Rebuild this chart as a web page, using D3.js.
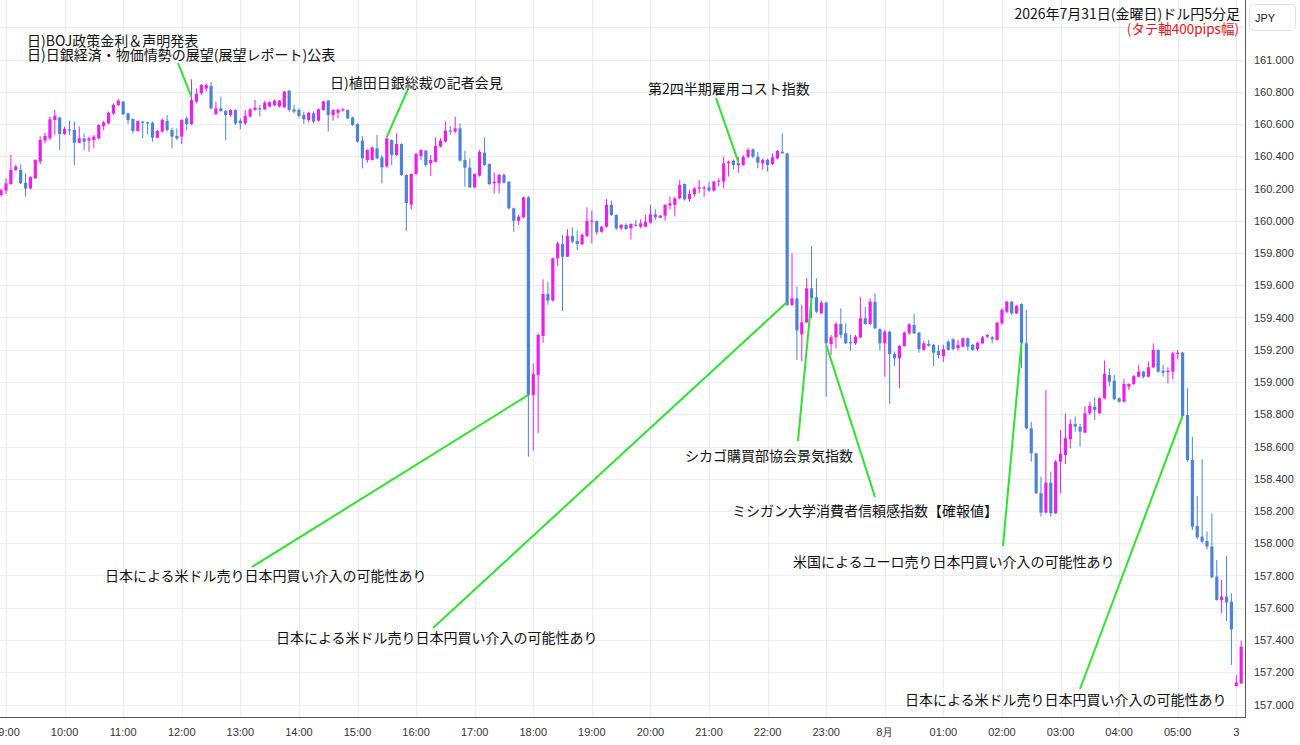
<!DOCTYPE html>
<html><head><meta charset="utf-8">
<script src="https://cdn.jsdelivr.net/npm/d3@7/dist/d3.min.js"></script>
<style>body{margin:0;background:#fff;overflow:hidden}</style>
</head><body><svg id="c" width="1300" height="745"></svg>
<script>
// ---- data ----
const firstCandle = new Date(2026, 6, 31, 8, 55); // 5-minute bars
const opens = [160.16,160.187,160.228,160.315,160.315,160.236,160.20,160.263,160.367,160.497,160.511,160.625,160.64,160.538,160.567,160.563,160.484,160.511,160.497,160.501,160.511,160.588,160.604,160.666,160.718,160.739,160.666,160.631,160.557,160.615,160.61,160.608,160.515,160.553,160.619,160.563,160.526,160.522,160.635,160.6,160.739,160.79,160.82,160.836,160.662,160.697,160.681,160.656,160.687,160.621,160.604,160.646,160.687,160.697,160.691,160.708,160.718,160.708,160.703,160.807,160.691,160.687,160.656,160.625,160.666,160.621,160.687,160.745,160.656,160.67,160.683,160.687,160.641,160.6,160.497,160.377,160.377,160.449,160.393,160.336,160.501,160.408,160.476,160.284,160.10,160.29,160.402,160.435,160.356,160.366,160.46,160.491,160.559,160.553,160.573,160.377,160.329,160.207,160.28,160.422,160.352,160.232,160.232,160.284,160.242,160.077,160.0,160.021,160.145,158.92,159.044,159.285,159.546,159.505,159.767,159.856,159.777,159.906,159.874,159.854,159.906,159.996,159.998,159.932,159.963,160.098,160.036,159.953,159.974,159.953,159.976,159.963,159.963,159.988,160.04,160.019,160.032,160.094,160.098,160.139,160.228,160.133,160.166,160.201,160.201,160.207,160.187,160.243,160.243,160.356,160.373,160.346,160.346,160.397,160.443,160.397,160.356,160.377,160.352,160.387,160.428,160.418,159.478,159.519,159.295,159.37,159.581,159.525,159.426,159.492,159.236,159.277,159.36,159.302,159.248,159.24,159.277,159.395,159.36,159.498,159.327,159.24,159.312,159.174,159.147,159.223,159.302,159.354,159.306,159.199,159.236,159.23,159.192,159.161,159.25,159.265,159.209,159.219,159.271,159.23,159.203,159.24,159.281,159.277,159.261,159.364,159.436,159.498,159.426,159.484,159.24,158.713,158.558,158.31,158.19,158.376,158.186,158.506,158.547,158.645,158.74,158.723,158.686,158.806,158.847,158.806,158.899,159.044,159.008,158.899,158.878,158.971,158.988,159.033,159.064,159.033,159.091,159.199,159.07,159.062,159.064,159.174,159.182,158.795,158.516,158.107,158.041,158.014,157.979,157.793,157.648,157.669,157.638,157.115,157.131];
const highs = [160.20,160.263,160.408,160.346,160.35,160.294,160.275,160.381,160.525,160.546,160.646,160.687,160.645,160.583,160.62,160.615,160.584,160.542,160.522,160.532,160.598,160.619,160.677,160.728,160.753,160.742,160.67,160.635,160.62,160.618,160.615,160.615,160.563,160.635,160.656,160.577,160.573,160.629,160.646,160.877,160.821,160.848,160.852,160.863,160.739,160.77,160.687,160.691,160.691,160.635,160.687,160.697,160.749,160.718,160.745,160.739,160.753,160.749,160.805,160.811,160.718,160.697,160.677,160.677,160.677,160.697,160.745,160.749,160.691,160.697,160.701,160.691,160.646,160.604,160.526,160.443,160.46,160.532,160.408,160.526,160.505,160.542,160.48,160.288,160.294,160.422,160.443,160.439,160.408,160.517,160.511,160.615,160.588,160.645,160.604,160.435,160.387,160.294,160.439,160.517,160.356,160.298,160.29,160.294,160.246,160.081,160.036,160.149,160.153,159.116,159.302,159.637,159.622,159.773,159.87,159.912,159.947,159.959,159.939,159.922,160.083,160.063,160.003,159.967,160.133,160.125,160.04,159.98,159.984,159.984,160.005,160.009,160.036,160.098,160.071,160.036,160.104,160.149,160.149,160.253,160.232,160.191,160.207,160.253,160.216,160.243,160.249,160.263,160.397,160.373,160.381,160.397,160.408,160.449,160.449,160.428,160.387,160.387,160.418,160.439,160.542,160.422,159.798,159.591,159.478,159.643,159.843,159.643,159.504,159.498,159.292,159.374,159.457,159.364,159.292,159.292,159.529,159.467,159.519,159.55,159.333,159.323,159.318,159.188,159.23,159.312,159.364,159.422,159.312,159.256,159.261,159.236,159.23,159.23,159.261,159.271,159.261,159.277,159.277,159.236,159.25,159.285,159.296,159.285,159.374,159.457,159.504,159.504,159.478,159.488,159.447,158.754,158.562,158.413,158.95,158.444,158.516,158.702,158.806,158.769,158.785,158.74,158.851,158.878,158.905,158.905,159.132,159.085,159.044,158.905,159.017,158.992,159.044,159.105,159.07,159.126,159.24,159.203,159.105,159.091,159.188,159.199,159.188,158.961,158.661,158.293,158.521,158.072,158.186,157.896,157.772,157.921,157.69,157.183,157.396];
const lows = [160.15,160.166,160.222,160.31,160.228,160.15,160.195,160.26,160.352,160.48,160.501,160.532,160.439,160.532,160.532,160.346,160.48,160.439,160.428,160.45,160.505,160.563,160.598,160.656,160.712,160.656,160.6,160.542,160.553,160.511,160.536,160.49,160.511,160.546,160.553,160.449,160.501,160.476,160.563,160.594,160.728,160.78,160.8,160.691,160.656,160.677,160.501,160.646,160.594,160.567,160.594,160.641,160.683,160.646,160.687,160.703,160.712,160.703,160.701,160.677,160.666,160.641,160.6,160.608,160.604,160.615,160.683,160.553,160.621,160.635,160.677,160.629,160.588,160.484,160.325,160.36,160.373,160.381,160.232,160.331,160.346,160.402,160.278,159.935,160.07,160.284,160.377,160.335,160.277,160.362,160.455,160.486,160.532,160.542,160.366,160.211,160.203,160.201,160.273,160.34,160.222,160.17,160.17,160.232,160.071,159.932,159.974,160.015,158.537,158.574,158.682,159.244,159.478,159.498,159.72,159.44,159.775,159.86,159.819,159.85,159.897,159.86,159.912,159.926,159.957,160.03,159.943,159.943,159.943,159.885,159.963,159.953,159.959,159.984,160.005,160.015,160.0,160.071,160.026,160.133,160.125,160.118,160.149,160.17,160.149,160.18,160.18,160.212,160.201,160.274,160.319,160.298,160.34,160.387,160.387,160.325,160.315,160.305,160.346,160.381,160.416,159.471,159.471,159.137,159.128,159.364,159.395,159.426,159.422,158.909,159.167,159.209,159.271,159.236,159.194,159.23,159.271,159.354,159.354,159.327,159.194,159.033,158.864,159.099,158.961,159.219,159.292,159.298,159.182,159.194,159.219,159.099,159.147,159.126,159.194,159.199,159.194,159.215,159.199,159.194,159.194,159.236,159.271,159.24,159.256,159.354,159.426,159.415,159.422,159.085,158.707,158.506,158.306,158.165,158.186,158.165,158.182,158.31,158.492,158.589,158.692,158.599,158.682,158.795,158.764,158.802,158.893,158.975,158.888,158.872,158.872,158.95,158.982,159.029,159.023,159.029,159.085,159.058,159.033,158.992,159.017,159.141,158.785,158.506,158.082,158.024,157.999,157.962,157.783,157.644,157.566,157.52,157.245,157.111,157.127];
const closes = [160.19,160.232,160.315,160.336,160.232,160.20,160.27,160.377,160.501,160.526,160.629,160.65,160.538,160.569,160.563,160.484,160.511,160.49,160.511,160.522,160.594,160.61,160.67,160.718,160.745,160.66,160.625,160.557,160.619,160.608,160.604,160.515,160.557,160.625,160.563,160.522,160.511,160.625,160.6,160.749,160.786,160.842,160.842,160.697,160.697,160.679,160.656,160.687,160.604,160.604,160.65,160.691,160.701,160.691,160.732,160.735,160.745,160.745,160.801,160.687,160.677,160.65,160.629,160.67,160.615,160.691,160.739,160.656,160.687,160.687,160.691,160.635,160.594,160.491,160.387,160.439,160.455,160.387,160.331,160.511,160.408,160.476,160.284,160.11,160.29,160.414,160.439,160.346,160.377,160.464,160.497,160.559,160.553,160.573,160.373,160.329,160.207,160.29,160.428,160.346,160.228,160.242,160.284,160.236,160.077,160.0,160.025,160.145,158.92,159.05,159.292,159.546,159.505,159.767,159.86,159.777,159.906,159.87,159.856,159.912,160.0,160.002,159.928,159.963,160.098,160.036,159.953,159.974,159.949,159.98,159.972,159.984,159.994,160.04,160.021,160.032,160.098,160.108,160.139,160.222,160.133,160.166,160.201,160.207,160.207,160.187,160.243,160.249,160.356,160.366,160.346,160.356,160.397,160.439,160.397,160.36,160.377,160.346,160.393,160.433,160.418,159.478,159.519,159.32,159.37,159.581,159.519,159.436,159.492,159.24,159.277,159.36,159.292,159.24,159.24,159.281,159.395,159.36,159.498,159.333,159.24,159.312,159.174,159.147,159.223,159.306,159.358,159.302,159.203,159.24,159.225,159.182,159.167,159.203,159.199,159.203,159.23,159.271,159.219,159.199,159.244,159.277,159.292,159.265,159.368,159.447,159.498,159.426,159.472,159.24,158.713,158.558,158.31,158.19,158.376,158.186,158.506,158.554,158.651,158.74,158.723,158.692,158.806,158.851,158.826,158.899,159.05,159.002,158.893,158.878,158.988,158.988,159.037,159.064,159.033,159.091,159.199,159.064,159.058,159.07,159.178,159.182,158.789,158.516,158.103,158.037,158.01,157.979,157.789,157.648,157.669,157.632,157.466,157.136,157.359];
const priceTicks = [161.0,160.8,160.6,160.4,160.2,160.0,159.8,159.6,159.4,159.2,159.0,158.8,158.6,158.4,158.2,158.0,157.8,157.6,157.4,157.2,157.0];
const timeTickLabels = ["09:00","10:00","11:00","12:00","13:00","14:00","15:00","16:00","17:00","18:00","19:00","20:00","21:00","22:00","23:00","8月","01:00","02:00","03:00","04:00","05:00","3"];
const titleLine1 = "2026年7月31日(金曜日)ドル円5分足";
const titleLine2 = "(タテ軸400pips幅)";
const currency = "JPY";
// annotations: text lines, candle index the leader points to, price there
const noteTexts = [
  ["日)BOJ政策金利＆声明発表","日)日銀経済・物価情勢の展望(展望レポート)公表"],
  ["日)植田日銀総裁の記者会見"],
  ["第2四半期雇用コスト指数"],
  ["日本による米ドル売り日本円買い介入の可能性あり"],
  ["日本による米ドル売り日本円買い介入の可能性あり"],
  ["シカゴ購買部協会景気指数"],
  ["ミシガン大学消費者信頼感指数【確報値】"],
  ["米国によるユーロ売り日本円買い介入の可能性あり"],
  ["日本による米ドル売り日本円買い介入の可能性あり"]
];
const noteCandle = [39, 79, 151, 108, 161, 166, 169, 209, 242];
const notePrice  = [160.767, 160.52, 160.364, 158.92, 159.496, 159.52, 159.23, 159.24, 158.79];

// ---- layout ----
const W = 1300, H = 745, plotRight = 1245, plotBottom = 717;
const svg = d3.select("#c");
svg.append("rect").attr("width", W).attr("height", H).attr("fill", "#fff");

const t0 = new Date(2026, 6, 31, 9, 0), t1 = new Date(2026, 7, 1, 6, 0);
const x = d3.scaleTime().domain([t0, t1]).range([6, 1236.3]);
const y = d3.scaleLinear().domain([157, 161]).range([704.5, 59.5]);
const candleTime = i => d3.timeMinute.offset(firstCandle, 5 * i);
const hourTicks = d3.timeHour.range(t0, d3.timeHour.offset(t1, 1));

const defs = svg.append("defs");
defs.append("clipPath").attr("id", "plot").append("rect")
  .attr("x", 0).attr("y", 0).attr("width", plotRight).attr("height", plotBottom);

const plot = svg.append("g").attr("clip-path", "url(#plot)");
// grid
const gridP = d3.range(157, 161.5, 0.2);
plot.selectAll("line.hg").data(gridP).join("line")
  .attr("x1", 0).attr("x2", plotRight)
  .attr("y1", d => Math.round(y(d)) + 0.5).attr("y2", d => Math.round(y(d)) + 0.5)
  .attr("stroke", "#e9eef4").attr("stroke-width", 1);
plot.selectAll("line.vg").data(hourTicks).join("line")
  .attr("y1", 0).attr("y2", plotBottom)
  .attr("x1", d => Math.round(x(d)) + 0.5).attr("x2", d => Math.round(x(d)) + 0.5)
  .attr("stroke", "#e9eef4").attr("stroke-width", 1);

// candles
const UP = "#ec1ee9", DOWN = "#4d82d6";
const idx = d3.range(opens.length);
const cg = plot.append("g");
cg.selectAll("line.w").data(idx).join("line")
  .attr("x1", i => x(candleTime(i))).attr("x2", i => x(candleTime(i)))
  .attr("y1", i => y(highs[i])).attr("y2", i => y(lows[i]))
  .attr("stroke", i => closes[i] >= opens[i] ? UP : DOWN).attr("stroke-width", 1);
cg.selectAll("rect.b").data(idx).join("rect")
  .attr("x", i => x(candleTime(i)) - 1.6).attr("width", 3.2)
  .attr("y", i => y(Math.max(opens[i], closes[i])))
  .attr("height", i => Math.max(1.2, Math.abs(y(opens[i]) - y(closes[i]))))
  .attr("fill", i => closes[i] >= opens[i] ? UP : DOWN);

// annotations (label anchors in px are layout)
const noteLayout = [
  {tx: 27, ty: [40, 54], lx: 178, ly: 63},
  {tx: 330, ty: [82], lx: 408, ly: 89},
  {tx: 648, ty: [88], lx: 716, ly: 98},
  {tx: 105, ty: [575], lx: 252, ly: 567},
  {tx: 276, ty: [637], lx: 433, ly: 628},
  {tx: 685, ty: [455], lx: 798, ly: 441},
  {tx: 732, ty: [510], lx: 875, ly: 497},
  {tx: 793, ty: [561], lx: 1003, ly: 546},
  {tx: 905, ty: [699], lx: 1080, ly: 689}
];
const ng = svg.append("g");
noteTexts.forEach((lines, k) => {
  const L = noteLayout[k];
  ng.append("line")
    .attr("x1", L.lx).attr("y1", L.ly)
    .attr("x2", x(candleTime(noteCandle[k]))).attr("y2", y(notePrice[k]))
    .attr("stroke", "#2fe22f").attr("stroke-width", 2);
  lines.forEach((s, j) => {
    ng.append("text").attr("x", L.tx).attr("y", L.ty[j])
      .attr("dominant-baseline", "central")
      .attr("font-family", "'Noto Sans CJK JP', sans-serif").attr("font-size", 14)
      .attr("fill", "#111").text(s);
  });
});

// title
svg.append("text").attr("x", 1240).attr("y", 13).attr("text-anchor", "end")
  .attr("dominant-baseline", "central")
  .attr("font-family", "'Noto Sans CJK JP', sans-serif").attr("font-size", 14)
  .attr("fill", "#111").text(titleLine1);
svg.append("text").attr("x", 1239).attr("y", 28).attr("text-anchor", "end")
  .attr("dominant-baseline", "central")
  .attr("font-family", "'Noto Sans CJK JP', sans-serif").attr("font-size", 13.5)
  .attr("fill", "#e8141b").text(titleLine2);

// right price axis
svg.append("line").attr("x1", plotRight + 0.5).attr("x2", plotRight + 0.5)
  .attr("y1", 0).attr("y2", plotBottom).attr("stroke", "#555").attr("stroke-width", 1);
svg.selectAll("text.pl").data(priceTicks).join("text")
  .attr("x", 1254).attr("y", d => y(d)).attr("dominant-baseline", "central")
  .attr("font-family", "'Liberation Sans', Arial, sans-serif").attr("font-size", 11)
  .attr("fill", "#333").text(d => d3.format(".3f")(d));
svg.append("rect").attr("x", 1249.5).attr("y", 4.5).attr("width", 46).attr("height", 26).attr("rx", 4)
  .attr("fill", "#fff").attr("stroke", "#e0e3eb");
svg.append("text").attr("x", 1265).attr("y", 18).attr("text-anchor", "middle")
  .attr("dominant-baseline", "central")
  .attr("font-family", "'Liberation Sans', Arial, sans-serif").attr("font-size", 11)
  .attr("fill", "#222").text(currency);

// bottom time axis
svg.append("line").attr("x1", 0).attr("x2", plotRight + 1)
  .attr("y1", plotBottom + 0.5).attr("y2", plotBottom + 0.5).attr("stroke", "#555").attr("stroke-width", 1);
const tg = svg.append("g").attr("clip-path", "url(#tclip)");
defs.append("clipPath").attr("id", "tclip").append("rect")
  .attr("x", 0).attr("y", plotBottom + 1).attr("width", plotRight).attr("height", 30);
tg.selectAll("text").data(hourTicks).join("text")
  .attr("x", d => x(d)).attr("y", 732).attr("text-anchor", "middle")
  .attr("dominant-baseline", "central")
  .attr("font-family", "'Liberation Sans', Arial, sans-serif").attr("font-size", 11)
  .attr("fill", "#333").text((d, i) => timeTickLabels[i]);
</script></body></html>
